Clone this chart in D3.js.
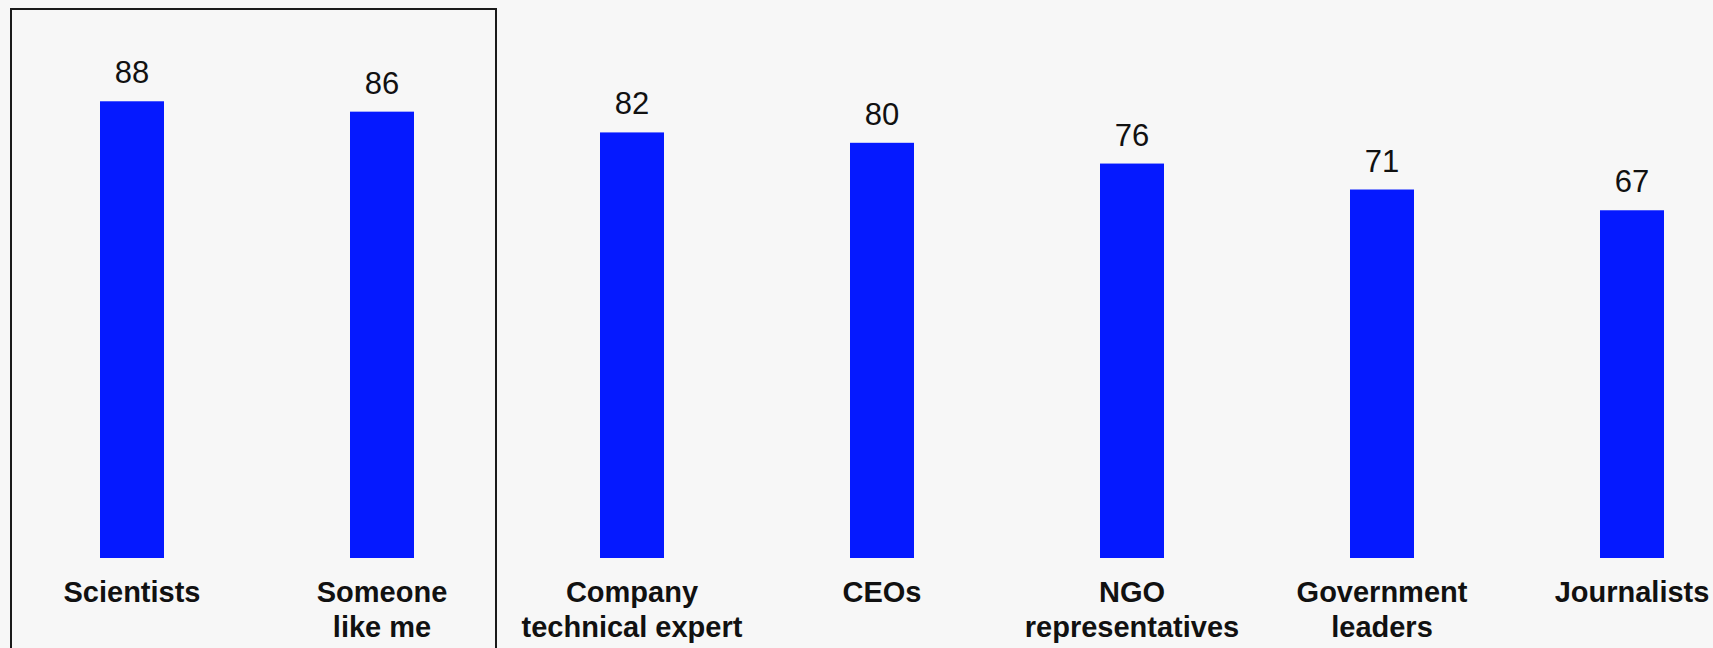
<!DOCTYPE html>
<html>

<head>
  <script src="https://d3js.org/d3.v7.min.js"></script>
  <style>
    body {
      margin: 0;
      background: #f7f7f7;
    }

    .value-label {
      font: 31px "Liberation Sans", Arial, sans-serif;
      fill: #111;
    }

    .cat-label {
      font: bold 29px "Liberation Sans", Arial, sans-serif;
      fill: #111;
    }
  </style>
</head>

<body>
  <div id="chart"></div>

  <script>
    // chart data
    const categories = ["Scientists", "Someone like me", "Company technical expert", "CEOs",
      "NGO representatives", "Government leaders", "Journalists"];
    const labelLines = [
      ["Scientists"],
      ["Someone", "like me"],
      ["Company", "technical expert"],
      ["CEOs"],
      ["NGO", "representatives"],
      ["Government", "leaders"],
      ["Journalists"]
    ];
    const values = [88, 86, 82, 80, 76, 71, 67];
    // the categories that sit inside the outlined box
    const boxed = ["Scientists", "Someone like me"];

    const data = categories.map((c, i) => ({ cat: c, value: values[i], lines: labelLines[i] }));

    const width = 1713,
      height = 648;

    const svg = d3.select("#chart")
      .append("svg")
      .attr("width", width)
      .attr("height", height);

    svg.append("rect")
      .attr("width", width)
      .attr("height", height)
      .attr("fill", "#f7f7f7");

    const x = d3.scaleBand()
      .domain(categories)
      .range([7, 1757])
      .paddingInner(0.744)
      .paddingOuter(0.372);

    const y = d3.scaleLinear()
      .domain([0, 100])
      .range([558, 39]);

    // outline box around the first group
    const bx0 = x(boxed[0]) + x.bandwidth() / 2 - 121;
    const bx1 = x(boxed[boxed.length - 1]) + x.bandwidth() / 2 + 114;
    svg.append("rect")
      .attr("x", bx0)
      .attr("y", 9)
      .attr("width", bx1 - bx0)
      .attr("height", height + 20)
      .attr("fill", "none")
      .attr("stroke", "#1a1a1a")
      .attr("stroke-width", 2);

    // bars
    svg.append("g")
      .selectAll("rect")
      .data(data)
      .join("rect")
      .attr("x", d => x(d.cat))
      .attr("y", d => y(d.value))
      .attr("width", x.bandwidth())
      .attr("height", d => y(0) - y(d.value))
      .attr("fill", "#0519ff");

    // value labels
    svg.append("g")
      .selectAll("text")
      .data(data)
      .join("text")
      .attr("class", "value-label")
      .attr("text-anchor", "middle")
      .attr("x", d => x(d.cat) + x.bandwidth() / 2)
      .attr("y", d => y(d.value) - 18)
      .text(d => d.value);

    // category labels
    const cats = svg.append("g")
      .selectAll("text")
      .data(data)
      .join("text")
      .attr("class", "cat-label")
      .attr("text-anchor", "middle")
      .attr("x", d => x(d.cat) + x.bandwidth() / 2)
      .attr("y", 602);

    cats.selectAll("tspan")
      .data(d => d.lines.map(l => ({ l, cx: x(d.cat) + x.bandwidth() / 2 })))
      .join("tspan")
      .attr("x", d => d.cx)
      .attr("dy", (d, i) => i === 0 ? 0 : 35)
      .text(d => d.l);
  </script>
</body>

</html>
